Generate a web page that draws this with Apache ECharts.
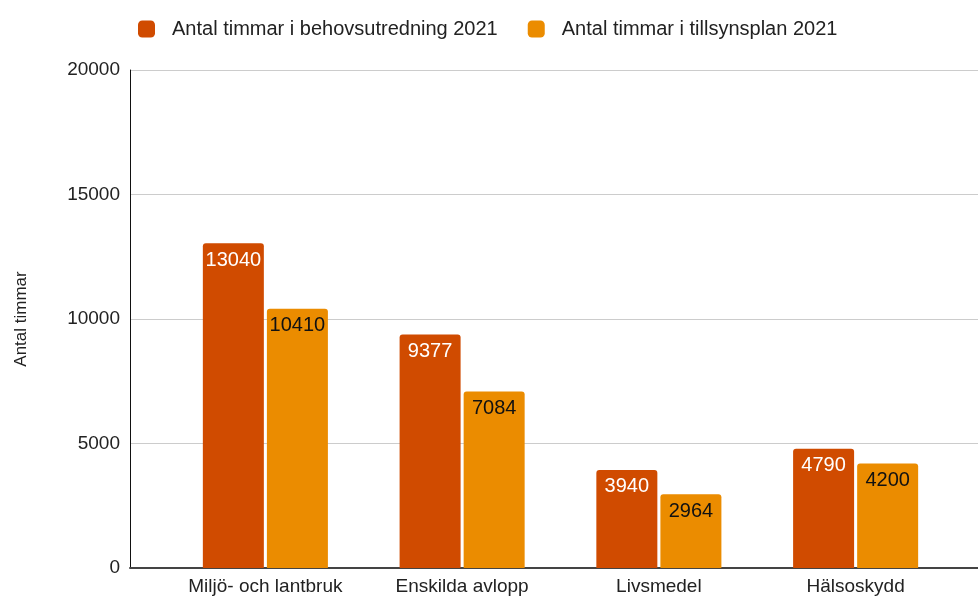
<!DOCTYPE html>
<html>
<head>
<meta charset="utf-8">
<script src="https://cdn.jsdelivr.net/npm/echarts@6/dist/echarts.min.js"></script>
<style>
  html, body { margin: 0; padding: 0; background: #fff; }
  #chart { width: 978px; height: 597px; }
</style>
</head>
<body>
<div id="chart"></div>
<script>
// data
const categories = ['Miljö- och lantbruk', 'Enskilda avlopp', 'Livsmedel', 'Hälsoskydd'];
const behovsutredning = [13040, 9377, 3940, 4790];
const tillsynsplan = [10410, 7084, 2964, 4200];
const seriesNames = ['Antal timmar i behovsutredning 2021', 'Antal timmar i tillsynsplan 2021'];

const chart = echarts.init(document.getElementById('chart'));
const font = '"Liberation Sans", Arial, sans-serif';

const option = {
  textStyle: { fontFamily: font },
  animation: false,
  legend: {
    data: seriesNames,
    left: 133, top: 14,
    itemWidth: 17, itemHeight: 17, itemGap: 30,
    icon: 'roundRect',
    textStyle: { fontSize: 20, color: '#222', fontFamily: font, padding: [0, 0, 0, 12] }
  },
  // grid 0 carries the visible axes lines and gridlines, grid 1 carries the bars
  grid: [
    { left: 130, right: 0, top: 70, bottom: 29 },
    { left: 167, right: 24, top: 70, bottom: 29 }
  ],
  xAxis: [
    {
      gridIndex: 0, type: 'value', min: 0, max: 1,
      axisLine: { show: true, lineStyle: { color: '#444', width: 2 } },
      axisTick: { show: false }, axisLabel: { show: false }, splitLine: { show: false }
    },
    {
      gridIndex: 1, type: 'category', data: categories,
      axisLine: { show: false },
      axisTick: { show: false },
      axisLabel: { interval: 0, fontSize: 19, color: '#222', margin: 9, fontFamily: font }
    }
  ],
  yAxis: [
    {
      gridIndex: 0, type: 'value', min: 0, max: 20000, interval: 5000,
      name: 'Antal timmar', nameLocation: 'middle', nameGap: 100, nameRotate: 90,
      nameTextStyle: { fontSize: 17, color: '#222', fontFamily: font },
      axisLine: { show: true, lineStyle: { color: '#111', width: 1 } },
      axisTick: { show: false },
      axisLabel: { fontSize: 19, color: '#222', margin: 10, fontFamily: font, formatter: v => String(v) },
      splitLine: { lineStyle: { color: '#ccc', width: 1 } }
    },
    {
      gridIndex: 1, type: 'value', min: 0, max: 20000, interval: 5000,
      show: false, splitLine: { show: false }
    }
  ],
  series: [
    {
      name: seriesNames[0], type: 'bar', xAxisIndex: 1, yAxisIndex: 1,
      data: behovsutredning, barWidth: 61, barGap: '5%',
      itemStyle: { color: '#d04b00', borderRadius: [3, 3, 0, 0] },
      label: {
        show: true, position: 'insideTop', distance: 7,
        color: '#fff', fontSize: 20, fontFamily: font
      }
    },
    {
      name: seriesNames[1], type: 'bar', xAxisIndex: 1, yAxisIndex: 1,
      data: tillsynsplan, barWidth: 61, barGap: '5%',
      itemStyle: { color: '#eb8c00', borderRadius: [3, 3, 0, 0] },
      label: {
        show: true, position: 'insideTop', distance: 7,
        color: '#111', fontSize: 20, fontFamily: font
      }
    }
  ]
};

chart.setOption(option);
</script>
</body>
</html>
